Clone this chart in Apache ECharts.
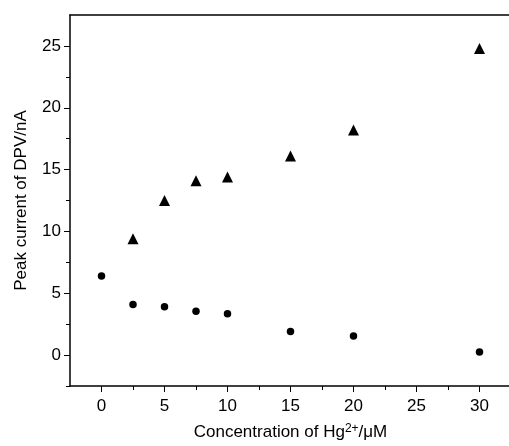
<!DOCTYPE html>
<html>
<head>
<meta charset="utf-8">
<script src="https://cdn.jsdelivr.net/npm/echarts@6/dist/echarts.min.js"></script>
<style>
  html, body { margin: 0; padding: 0; background: #fff; }
  #chart { width: 509px; height: 446px; }
</style>
</head>
<body>
<div id="chart"></div>
<script>
// 数据
const triangleX = [2.5, 5, 7.5, 10, 15, 20, 30];
const triangleY = [9.4, 12.5, 14.1, 14.4, 16.1, 18.2, 24.8];
const circleX = [0, 2.5, 5, 7.5, 10, 15, 20, 30];
const circleY = [6.4, 4.1, 3.9, 3.55, 3.35, 1.9, 1.55, 0.25];

// 刻度
const xMajorTicks = [0, 5, 10, 15, 20, 25, 30];
const xMinorTicks = [2.5, 7.5, 12.5, 17.5, 22.5, 27.5];
const yMajorTicks = [0, 5, 10, 15, 20, 25];
const yMinorTicks = [-2.5, 2.5, 7.5, 12.5, 17.5, 22.5];

const font = 'Liberation Sans, Arial, sans-serif';
const black = '#000';
const myChart = echarts.init(document.getElementById('chart'));

const axisBase = {
  type: 'value',
  splitLine: {show: false}
};

const option = {
  animation: false,
  grid: {
    left: 70,
    top: 15,
    width: 441,
    bottom: 60,
    outerBoundsMode: 'none'
  },
  xAxis: [
    {
      ...axisBase,
      min: -2.5,
      max: 32.5,
      position: 'bottom',
      name: '{a|Concentration of Hg}{s|2+}{a|/μM}',
      nameLocation: 'middle',
      nameGap: 37,
      nameTextStyle: {
        rich: {
          a: {fontFamily: font, fontSize: 17, color: black},
          s: {fontFamily: font, fontSize: 12, color: black, verticalAlign: 'top', padding: [0, 0, 6, 0]}
        }
      },
      axisLine: {show: true, onZero: false, lineStyle: {color: black, width: 1.5}},
      axisTick: {show: true, length: 6, customValues: xMajorTicks, lineStyle: {color: black}},
      axisLabel: {
        fontFamily: font,
        fontSize: 17,
        color: black,
        margin: 12,
        customValues: xMajorTicks
      }
    },
    {
      ...axisBase,
      min: -2.5,
      max: 32.5,
      position: 'bottom',
      axisLine: {show: false, onZero: false},
      axisTick: {show: true, length: 4, customValues: xMinorTicks, lineStyle: {color: black}},
      axisLabel: {show: false}
    },
    {
      ...axisBase,
      min: -2.5,
      max: 32.5,
      position: 'top',
      axisLine: {show: true, onZero: false, lineStyle: {color: black, width: 1.5}},
      axisTick: {show: false},
      axisLabel: {show: false}
    }
  ],
  yAxis: [
    {
      ...axisBase,
      min: -2.5,
      max: 27.5,
      position: 'left',
      name: 'Peak current of DPV/nA',
      nameLocation: 'middle',
      nameGap: 40,
      nameTextStyle: {fontFamily: font, fontSize: 17, color: black},
      axisLine: {show: true, onZero: false, lineStyle: {color: black, width: 1.5}},
      axisTick: {show: true, length: 6, customValues: yMajorTicks, lineStyle: {color: black}},
      axisLabel: {
        fontFamily: font,
        fontSize: 17,
        color: black,
        margin: 9,
        customValues: yMajorTicks
      }
    },
    {
      ...axisBase,
      min: -2.5,
      max: 27.5,
      position: 'left',
      axisLine: {show: false, onZero: false},
      axisTick: {show: true, length: 4, customValues: yMinorTicks, lineStyle: {color: black}},
      axisLabel: {show: false}
    }
  ],
  series: [
    {
      name: 'triangle',
      type: 'scatter',
      symbol: 'triangle',
      symbolSize: 11,
      itemStyle: {color: black, opacity: 1},
      data: triangleX.map((x, i) => [x, triangleY[i]])
    },
    {
      name: 'circle',
      type: 'scatter',
      symbol: 'circle',
      symbolSize: 7.5,
      itemStyle: {color: black, opacity: 1},
      data: circleX.map((x, i) => [x, circleY[i]])
    }
  ]
};

myChart.setOption(option);
</script>
</body>
</html>
